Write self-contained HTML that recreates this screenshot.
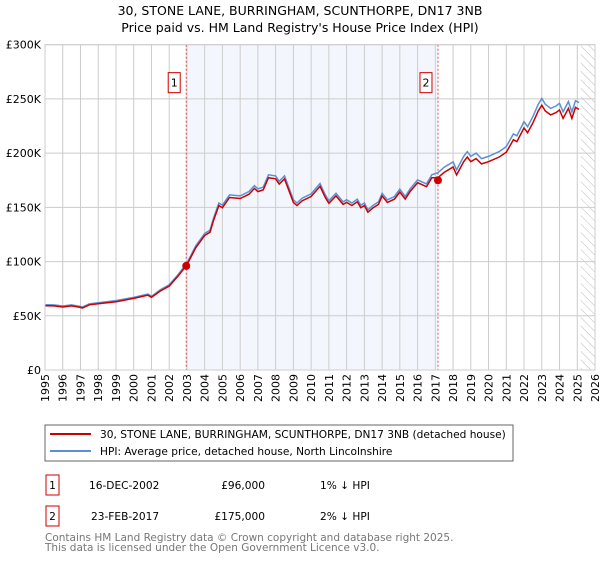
<!DOCTYPE html>
<html><head><meta charset="utf-8"><style>
body{margin:0;background:#fff;font-family:"Liberation Sans","DejaVu Sans",sans-serif;}
</style></head><body>
<svg width="600" height="560" xmlns="http://www.w3.org/2000/svg" font-family="DejaVu Sans, Liberation Sans, sans-serif">
<defs><pattern id="hatch" width="6" height="6" patternUnits="userSpaceOnUse" patternTransform="rotate(-45)"><line x1="0" y1="0" x2="0" y2="6" stroke="#bbb" stroke-width="1"/></pattern></defs>
<text x="300" y="15" text-anchor="middle" font-size="12.5">30, STONE LANE, BURRINGHAM, SCUNTHORPE, DN17 3NB</text>
<text x="300" y="32" text-anchor="middle" font-size="12.5">Price paid vs. HM Land Registry's House Price Index (HPI)</text>
<g id="plot"></g>
<rect x="45" y="425" width="468" height="36" fill="#fff" stroke="#666"/>
<line x1="50" y1="434" x2="91" y2="434" stroke="#cc0000" stroke-width="2"/>
<text x="100" y="438" font-size="10.6">30, STONE LANE, BURRINGHAM, SCUNTHORPE, DN17 3NB (detached house)</text>
<line x1="50" y1="451" x2="91" y2="451" stroke="#5b8fd6" stroke-width="2"/>
<text x="100" y="455" font-size="10.6">HPI: Average price, detached house, North Lincolnshire</text>
<g font-size="10.6">
<rect x="46" y="475" width="13" height="20" fill="#fff" stroke="#cc0000"/>
<text x="52.5" y="489" text-anchor="middle">1</text>
<text x="89" y="489">16-DEC-2002</text>
<text x="265" y="489" text-anchor="end">£96,000</text>
<text x="320" y="489">1% ↓ HPI</text>
<rect x="46" y="506" width="13" height="20" fill="#fff" stroke="#cc0000"/>
<text x="52.5" y="520" text-anchor="middle">2</text>
<text x="91" y="520">23-FEB-2017</text>
<text x="265" y="520" text-anchor="end">£175,000</text>
<text x="320" y="520">2% ↓ HPI</text>
</g>
<text x="45" y="541" font-size="10.5" fill="#777">Contains HM Land Registry data © Crown copyright and database right 2025.</text>
<text x="45" y="551" font-size="10.5" fill="#777">This data is licensed under the Open Government Licence v3.0.</text>
</svg>
<script>
const times=[1995,1995.5,1996,1996.5,1997,1997.1,1997.5,1998,1999,2000,2000.8,2001,2001.5,2002,2002.5,2003,2003.5,2004,2004.3,2004.5,2004.8,2005,2005.4,2006,2006.5,2006.8,2007,2007.3,2007.6,2008,2008.2,2008.5,2009,2009.2,2009.5,2010,2010.5,2010.8,2011,2011.4,2011.8,2012,2012.3,2012.6,2012.8,2013,2013.2,2013.5,2013.8,2014,2014.3,2014.7,2015,2015.3,2015.6,2016,2016.5,2016.8,2017.15,2017.5,2018,2018.2,2018.6,2018.8,2019,2019.3,2019.6,2020,2020.6,2021,2021.4,2021.6,2022,2022.2,2022.5,2022.8,2023,2023.2,2023.5,2023.8,2024,2024.2,2024.5,2024.7,2024.9,2025.1];
const hpi=[60.2,60,59,60,58.6,58,61,62,64,67,70,68,74,78.6,88,98.5,114.5,126,129,140,154,152,161.5,160.6,164.6,170,167,168.6,180,179,174,179,157,154,158.5,162.4,172,161.5,156,163,155,157,154,157.5,152,154,147.7,152,155,163,157,160,166.7,160,167.6,175.3,171.6,180,182,187,192,184.5,197,201.4,197,200,195,197,201.4,206,217.7,216,229,224.4,233.7,245,250.5,245,241.3,243.5,246,238,247.5,238,248.4,246.5];
const price=[59.3,59.1,58.1,59.1,57.7,57.1,60.1,61.1,63,66,69,67,72.9,77.4,86.7,97,112.8,124.1,127.1,137.9,151.7,149.7,159.1,158.2,162.1,167.5,164.5,166.1,177.3,176.3,171.4,176.3,154.6,151.7,156.1,160,169.4,159.1,153.7,160.6,152.7,154.6,151.7,155.1,149.7,151.7,145.5,149.7,152.7,160.6,154.6,157.6,164.2,157.6,165.1,172.7,169,177.3,177.4,182.3,187.2,179.9,192.1,196.4,192.1,195,190.1,192.1,196.4,200.9,212.3,210.6,223.3,218.8,227.9,238.9,244.2,238.9,235.3,237.4,239.9,232,241.3,232,242.2,240.3];
const sales=[[2002.96,96],[2017.15,175]];
const yTicks=[0,50,100,150,200,250,300];
const yLabels=['£0','£50K','£100K','£150K','£200K','£250K','£300K'];
const years=[];for(let y=1995;y<=2026;y++)years.push(y);
const L=45,R=595,T=44.7,B=370;
const X=t=>L+(t-1995)*(R-L)/31, Y=v=>B-v*(B-T)/300;
const NS='http://www.w3.org/2000/svg', g=document.getElementById('plot');
function mk(tag,attrs,parent){const e=document.createElementNS(NS,tag);for(const k in attrs)e.setAttribute(k,attrs[k]);(parent||g).appendChild(e);return e;}
let e=mk('rect',{x:X(2002.96),y:T,width:X(2017.15)-X(2002.96),height:B-T,fill:'#eef3fc',opacity:0.7});


e=mk('rect',{x:X(2025.2),y:T,width:R-X(2025.2),height:B-T,fill:'url(#hatch)'});


years.forEach(y=>{
 const l=mk('line',{x1:X(y),x2:X(y),y1:T,y2:B,stroke:'#ccc','stroke-width':1});
 
 
 const t=mk('text',{x:0,y:0,transform:`translate(${X(y)+4},${B+4}) rotate(-90)`,'text-anchor':'end','font-size':11});
 t.textContent=y;
 
 
});
yTicks.forEach((v,i)=>{
 const l=mk('line',{x1:L,x2:R,y1:Y(v),y2:Y(v),stroke:'#ccc','stroke-width':1});
 
 
 const t=mk('text',{x:L-4,y:Y(v)+4,'text-anchor':'end','font-size':11});
 t.textContent=yLabels[i];
 
 
});
sales.forEach((s,i)=>{
 const l=mk('line',{x1:X(s[0]),x2:X(s[0]),y1:T,y2:B,stroke:'#e05555','stroke-width':1,'stroke-dasharray':'2,2'});
 
 
 const r=mk('rect',{x:X(s[0])-18,y:Y(265)-10,width:12,height:20,fill:'#fff',stroke:'#cc0000'});
 
 
 const t=mk('text',{x:X(s[0])-12,y:Y(265)+4,'text-anchor':'middle','font-size':11});
 t.textContent=i+1;
 
 
});
const pts=a=>a.map((v,i)=>X(times[i]).toFixed(1)+','+Y(v).toFixed(1)).join(' ');
e=mk('polyline',{points:pts(hpi),fill:'none',stroke:'#5b8fd6','stroke-width':1.5});


e=mk('polyline',{points:pts(price),fill:'none',stroke:'#cc0000','stroke-width':1.5});


sales.forEach(s=>{
 const c=mk('circle',{cx:X(s[0]),cy:Y(s[1]),r:4,fill:'#cc0000'});
 
 
});
e=mk('rect',{x:L,y:T,width:R-L,height:B-T,fill:'none',stroke:'#ccc'});


</script>
</body></html>
